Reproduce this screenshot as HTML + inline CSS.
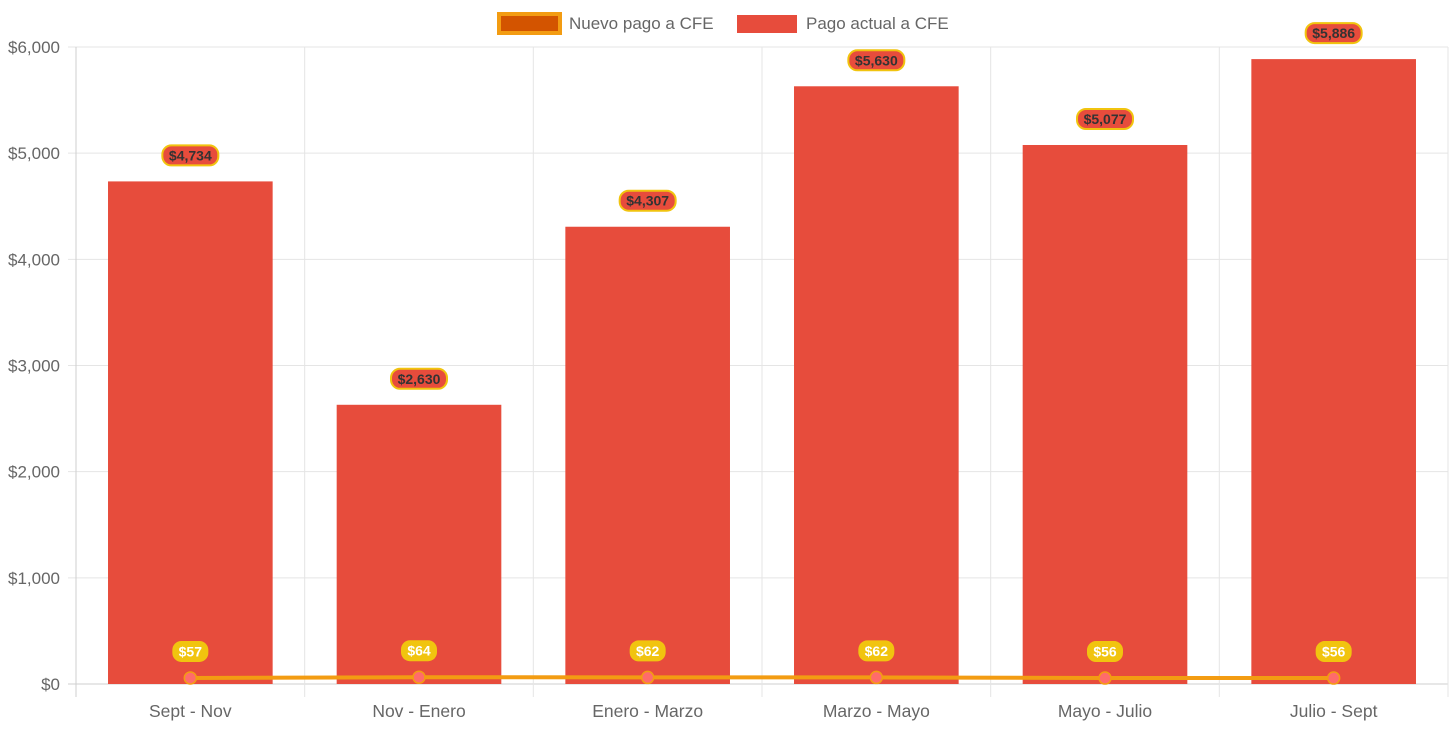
<!DOCTYPE html>
<html><head><meta charset="utf-8"><style>
body{margin:0;background:#fff;font-family:"Liberation Sans",sans-serif;}
svg text{font-family:"Liberation Sans",sans-serif;}
</style></head><body>
<svg id="chart" width="1456" height="727" xmlns="http://www.w3.org/2000/svg">
<g id="legend">
 <g>
  <rect x="499" y="14" width="61" height="19" fill="#d35400" stroke="#f39c12" stroke-width="4"/>
  <text x="569" y="29" font-size="17" fill="#666">Nuevo pago a CFE</text>
 </g>
 <g>
  <rect x="737" y="15" width="60" height="18" fill="#e74c3c"/>
  <text x="806" y="29" font-size="17" fill="#666">Pago actual a CFE</text>
 </g>
</g>
<g id="grid"></g>
<g id="yaxis"></g>
<g id="xaxis"></g>
<g id="bars"></g>
<g id="line"></g>
<g id="labels"></g>
</svg>
<script>
const categories=["Sept - Nov","Nov - Enero","Enero - Marzo","Marzo - Mayo","Mayo - Julio","Julio - Sept"];
const pagoActual=[4734,2630,4307,5630,5077,5886];
const nuevoPago=[57,64,62,62,56,56];
const yTicks=[0,1000,2000,3000,4000,5000,6000];
const NS="http://www.w3.org/2000/svg";
const L=76,R=1448,T=47,B=684,yMax=6000;
const band=(R-L)/categories.length;
const y=v=>B-(v/yMax)*(B-T);
const xc=i=>L+band*(i+0.5);
function mk(tag,attrs,parent,txt){const e=document.createElementNS(NS,tag);for(const k in attrs)e.setAttribute(k,attrs[k]);if(txt!==undefined)e.textContent=txt;parent.appendChild(e);return e;}
const fmt=v=>"$"+v.toLocaleString("en-US");
const grid=document.getElementById("grid"),ya=document.getElementById("yaxis"),xa=document.getElementById("xaxis");
yTicks.forEach(t=>{
 const ln=mk("line",{x1:L-8,x2:R,y1:y(t),y2:y(t),stroke:t===0?"#cfcfcf":"#e5e5e5","stroke-width":1},grid);
 
 
 const tx=mk("text",{x:L-16,y:y(t)+6,"text-anchor":"end","font-size":17,fill:"#666"},ya,fmt(t));
 
 
});
for(let i=0;i<=categories.length;i++){
 const x=L+band*i;
 const ln=mk("line",{x1:x,x2:x,y1:T,y2:B+13,stroke:i===0?"#cfcfcf":"#e5e5e5","stroke-width":1},grid);
 
 
}
categories.forEach((c,i)=>{
 const tx=mk("text",{x:xc(i),y:717,"text-anchor":"middle","font-size":17.5,fill:"#666"},xa,c);
 
 
});
const bars=document.getElementById("bars"),lab=document.getElementById("labels"),lg=document.getElementById("line");
const bw=band*0.72;
pagoActual.forEach((v,i)=>{
 const r=mk("rect",{x:xc(i)-bw/2,y:y(v),width:bw,height:B-y(v),fill:"#e74c3c"},bars);
 
 
 const g=mk("g",{},lab);
 
 
 mk("rect",{x:xc(i)-28,y:y(v)-36,width:56,height:20,rx:9,fill:"#e74c3c",stroke:"#f1c40f","stroke-width":2},g);
 mk("text",{x:xc(i),y:y(v)-21,"text-anchor":"middle","font-size":14,"font-weight":"bold",fill:"#333"},g,fmt(v));
});
let d="";nuevoPago.forEach((v,i)=>{d+=(i?"L":"M")+xc(i)+","+y(v);});
const p=mk("path",{d:d,fill:"none",stroke:"#f39c12","stroke-width":4},lg);


nuevoPago.forEach((v,i)=>{
 const c=mk("circle",{cx:xc(i),cy:y(v),r:6,fill:"#ff6b6b",stroke:"#f39c12","stroke-width":1.5},lg);
 
 
 const g=mk("g",{},lab);
 
 
 mk("rect",{x:xc(i)-18,y:y(v)-37,width:36,height:21,rx:9,fill:"#f1c40f"},g);
 mk("text",{x:xc(i),y:y(v)-21.5,"text-anchor":"middle","font-size":14,"font-weight":"bold",fill:"#fff"},g,fmt(v));
});
</script>
</body></html>
